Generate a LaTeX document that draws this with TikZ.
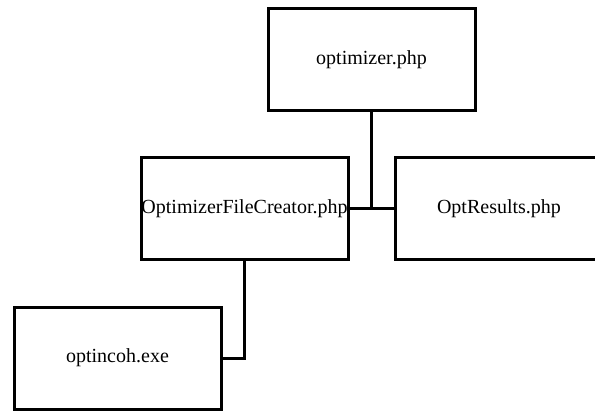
\documentclass[tikz,border=0pt]{standalone}
\usepackage{fontspec}
\setmainfont{Liberation Serif}
\usetikzlibrary{positioning}

\begin{document}
\begin{tikzpicture}[x=1pt, y=1pt, line width=3pt, font=\fontsize{20}{22}\selectfont]
    \useasboundingbox (0,0) rectangle (595,413);
    \tikzset{filebox/.style={draw, fill=white, minimum width=207pt, minimum height=102pt, inner sep=0pt, align=center}}

    % Files
    \node[filebox] (opt) at (371.5,353) {optimizer.php};
    \node[filebox] (creator) at (244.5,204.5) {OptimizerFileCreator.php};
    \node[filebox] (results) at (499,204.5) {OptResults.php};
    \node[filebox] (exe) at (117.5,55) {optincoh.exe};

    % Links
    \coordinate (join) at (opt.south |- creator.east);
    \draw (creator.east) -- (results.west);
    \draw (opt.south) -- (join);
    \draw (exe.east) -| (creator.south);
\end{tikzpicture}
\end{document}
